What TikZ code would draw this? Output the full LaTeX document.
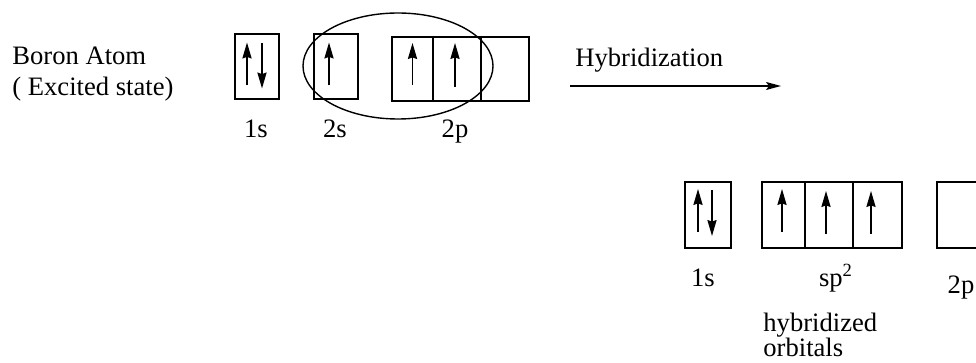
\documentclass[tikz,border=0pt]{standalone}
\usepackage{fontspec}
\setmainfont{Liberation Serif}
\usetikzlibrary{arrows.meta, positioning, calc}

\tikzset{
  orb/.style={draw, line width=0.7pt, minimum height=32.5pt, inner sep=0pt},
  spin/.style={line width=0.7pt, -{Stealth[length=8pt,width=4.6pt,inset=0.8pt]}},
  lbl/.style={font=\fontsize{13.3}{16}\selectfont, inner sep=0pt, anchor=base},
}

\begin{document}
\begin{tikzpicture}[x=0.5pt, y=-0.5pt]
  \useasboundingbox (0,0) rectangle (976,363);
  \clip (0,0) rectangle (976,363);

  % Excited state
  \node[lbl, anchor=base west] (name) at (12,65) {Boron Atom};
  \node[lbl, anchor=base west] (state) at (12,96) {( Excited state)};

  \node[orb, minimum width=22pt] (a1) at (257,66.5) {};
  \node[orb, minimum width=22pt] (a2) at (336,66.5) {};
  \node[orb, minimum width=20.5pt, minimum height=32pt] (p1) at (412.5,69) {};
  \node[orb, minimum width=24pt, minimum height=32pt] (p2) at (457,69) {};
  \node[orb, minimum width=24pt, minimum height=32pt] (p3) at (505,69) {};

  \draw[spin] ($(a1)+(-10,19)$) -- ($(a1)+(-10,-24)$);
  \draw[spin] ($(a1)+(5,-23)$) -- ($(a1)+(5,22)$);
  \draw[spin] ($(a2)+(-7,19)$) -- ($(a2)+(-7,-24)$);
  \draw[spin] ($(p1)+(0,16)$) -- ($(p1)+(0,-26)$);
  \draw[spin] ($(p2)+(-2,18)$) -- ($(p2)+(-2,-26)$);

  \draw[line width=0.7pt] (398,66) ellipse [x radius=95, y radius=53];

  \node[lbl] (l1) at (256,138) {1s};
  \node[lbl] (l2) at (335,138) {2s};
  \node[lbl] (l3) at (455,138) {2p};

  % Hybridization
  \coordinate (h0) at (570,86);
  \coordinate (h1) at (781,86);
  \draw[line width=0.7pt, -{Stealth[length=7.5pt,width=4pt,inset=1.5pt]}] (h0) -- (h1);
  \node[lbl, anchor=base west] (hyb) at (575,67) {Hybridization};

  % Hybridized state
  \node[orb, minimum width=23pt, minimum height=33pt] (b1) at (708,215) {};
  \node[orb, minimum width=21.5pt, minimum height=33pt] (q1) at (783.5,215) {};
  \node[orb, minimum width=24pt, minimum height=33pt] (q2) at (829,215) {};
  \node[orb, minimum width=24.5pt, minimum height=33pt] (q3) at (877.5,215) {};
  \node[orb, minimum width=23pt, minimum height=33pt] (b2) at (960,215) {};

  \draw[spin] ($(b1)+(-10,17)$) -- ($(b1)+(-10,-26)$);
  \draw[spin] ($(b1)+(4,-25)$) -- ($(b1)+(4,21)$);
  \draw[spin] ($(q1)+(-1.5,17)$) -- ($(q1)+(-1.5,-26)$);
  \draw[spin] ($(q2)+(-3,19)$) -- ($(q2)+(-3,-24)$);
  \draw[spin] ($(q3)+(-6.5,19)$) -- ($(q3)+(-6.5,-24)$);

  \node[lbl] (m1) at (703,287) {1s};
  \node[lbl] (m2) at (836,287) {sp\textsuperscript{2}};
  \node[lbl] (m3) at (961,294) {2p};
  \node[lbl, anchor=base west] (m4) at (763,332) {hybridized};
  \node[lbl, anchor=base west] (m5) at (763,357) {orbitals};
\end{tikzpicture}
\end{document}
